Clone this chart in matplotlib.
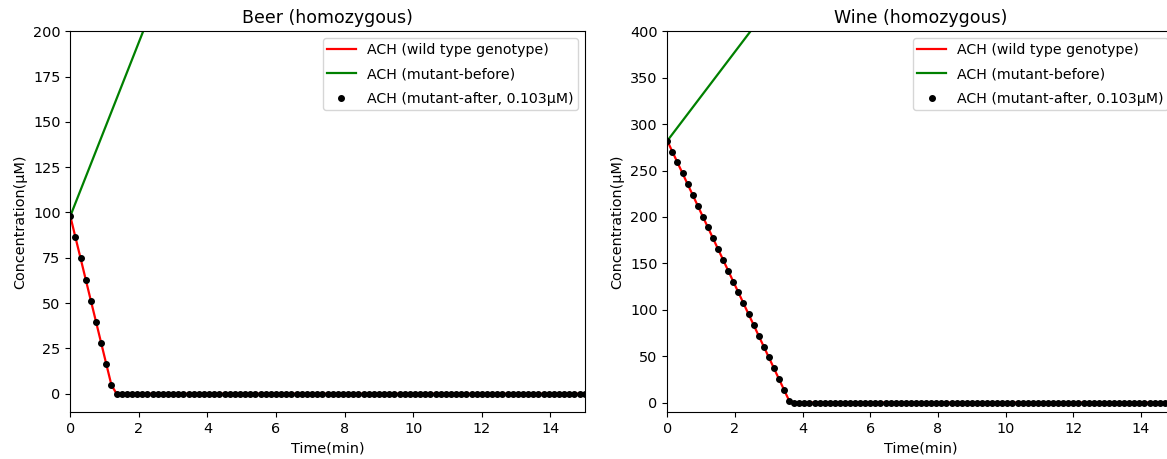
import numpy as np
import matplotlib
matplotlib.use("Agg")
import matplotlib.pyplot as plt

# Sampling grid (minutes)
time = np.round(np.arange(0, 15.0001, 0.15), 2)

# Beer: acetaldehyde concentration (µM)
beer_wild = [98.0, 86.3, 74.7, 63.0, 51.3, 39.7, 28.0, 16.3, 4.7]
beer_wild = beer_wild + [0.0] * (len(time) - len(beer_wild))
beer_after = list(beer_wild)
beer_before_t = [0.0, 3.0]
beer_before = [98.0, 242.0]

# Wine: acetaldehyde concentration (µM)
wine_wild = [282.0, 270.3, 258.7, 247.0, 235.3, 223.7, 212.0, 200.3, 188.7,
             177.0, 165.3, 153.7, 142.0, 130.3, 118.7, 107.0, 95.3, 83.7,
             72.0, 60.3, 48.7, 37.0, 25.3, 13.7, 2.0]
wine_wild = wine_wild + [0.0] * (len(time) - len(wine_wild))
wine_after = list(wine_wild)
wine_before_t = [0.0, 3.0]
wine_before = [282.0, 426.0]

labels = ["ACH (wild type genotype)", "ACH (mutant-before)",
          "ACH (mutant-after, 0.103\u03bcM)"]

W, H = 1167, 459
fig = plt.figure(figsize=(W / 100, H / 100), dpi=100)
plt.rcParams["font.family"] = ["DejaVu Sans"]


def axes_px(left, top, width, height):
    return fig.add_axes([left / W, (H - top - height) / H, width / W, height / H])


ax1 = axes_px(70.3, 31.3, 514.4, 380.5)
ax2 = axes_px(667.3, 31.3, 507.6, 380.5)

panels = [
    (ax1, "Beer (homozygous)", beer_wild, beer_before_t, beer_before, beer_after, 200,
     [0, 25, 50, 75, 100, 125, 150, 175, 200]),
    (ax2, "Wine (homozygous)", wine_wild, wine_before_t, wine_before, wine_after, 400,
     [0, 50, 100, 150, 200, 250, 300, 350, 400]),
]

fs = 10.4
for ax, title, wild, bt, before, after, ymax, yticks in panels:
    ax.plot(time, wild, color="red", lw=1.6, label=labels[0], zorder=2)
    ax.plot(bt, before, color="green", lw=1.6, label=labels[1], zorder=2)
    ax.plot(time, after, "k.", ms=8, label=labels[2], zorder=3)
    ax.set_xlim(0, 15)
    ax.set_ylim(-10, ymax)
    ax.set_xticks([0, 2, 4, 6, 8, 10, 12, 14])
    ax.set_yticks(yticks)
    ax.tick_params(labelsize=fs)
    ax.set_title(title, fontsize=12.5)
    ax.set_xlabel("Time(min)", fontsize=fs)
    ax.set_ylabel("Concentration(\u03bcM)", fontsize=fs)
    ax.legend(loc="upper right", fontsize=10.2, labelspacing=0.75, borderpad=0.3)

fig.savefig("out.png", dpi=100)
